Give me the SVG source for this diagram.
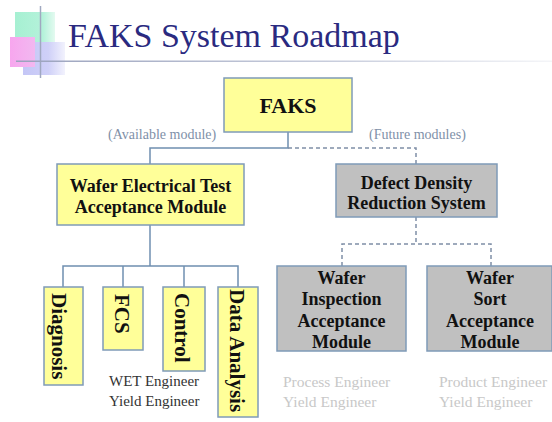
<svg xmlns="http://www.w3.org/2000/svg" width="552" height="422" viewBox="0 0 552 422">
<defs>
<linearGradient id="gGreen" x1="0" y1="0" x2="1" y2="0">
<stop offset="0" stop-color="#a6f0d2"/><stop offset="0.7" stop-color="#b4f2da"/><stop offset="1" stop-color="#e4faf0"/>
</linearGradient>
<linearGradient id="gPink" x1="0" y1="0" x2="1" y2="0">
<stop offset="0" stop-color="#f7a6ee"/><stop offset="1" stop-color="#f2b8f0"/>
</linearGradient>
<linearGradient id="gLav" x1="0" y1="0" x2="1" y2="0">
<stop offset="0" stop-color="#c4c6f6"/><stop offset="0.6" stop-color="#cfd0f8"/><stop offset="1" stop-color="#f2f2fd"/>
</linearGradient>
<linearGradient id="gLine" x1="0" y1="0" x2="1" y2="0">
<stop offset="0" stop-color="#9aa2bd"/><stop offset="0.6" stop-color="#c9cedd"/><stop offset="1" stop-color="#f4f5f8"/>
</linearGradient>
</defs>
<style>
.yb{fill:#ffff99;stroke:#7f9bb8;stroke-width:1.5}
.gb{fill:#c0c0c0;stroke:#7f9bb8;stroke-width:1.5}
.t{font-family:"Liberation Serif","Times New Roman",serif;font-weight:bold;fill:#111;text-anchor:middle}
.v{font-family:"Liberation Serif","Times New Roman",serif;font-weight:bold;fill:#111;font-size:21px}
.sol{fill:none;stroke:#6f8fb0;stroke-width:1.5}
.dsh{fill:none;stroke:#7f8fa6;stroke-width:1.5;stroke-dasharray:4 3}
.lab{font-family:"Liberation Serif","Times New Roman",serif;font-size:14px;fill:#8090a8}
.eng{font-family:"Liberation Serif","Times New Roman",serif;font-size:15px;fill:#333}
.eng2{font-family:"Liberation Serif","Times New Roman",serif;font-size:15.5px;fill:#c8c8c8}
</style>
<rect width="552" height="422" fill="#ffffff"/>
<g id="title">
<rect x="15" y="12" width="40" height="30" fill="url(#gGreen)"/>
<rect x="23" y="42" width="42" height="33" fill="url(#gLav)"/>
<rect x="10" y="37" width="25" height="30" fill="url(#gPink)"/>
<line x1="40.5" y1="6" x2="40.5" y2="78" stroke="#a0a8c0" stroke-width="1.5"/>
<rect x="16" y="60.5" width="536" height="1.5" fill="url(#gLine)"/>
<text x="68" y="47" font-family="'Liberation Serif','Times New Roman',serif" font-size="34" fill="#2a2a80">FAKS System Roadmap</text>
</g>
<g id="connectors">
<polyline class="sol" points="288,132 288,148 150,148 150,164"/>
<polyline class="dsh" points="288,148 416,148 416,164"/>
<polyline class="sol" points="150,225 150,266"/>
<polyline class="sol" points="63,287 63,266 238,266 238,287"/>
<line class="sol" x1="123" y1="266" x2="123" y2="287"/>
<line class="sol" x1="184" y1="266" x2="184" y2="287"/>
<polyline class="dsh" points="416,217 416,244"/>
<polyline class="dsh" points="342,266 342,244 491,244 491,266"/>
</g>
<g id="labels">
<text class="lab" x="108" y="139">(Available module)</text>
<text class="lab" x="369" y="139">(Future modules)</text>
</g>
<g id="faks">
<rect class="yb" x="224" y="78" width="128" height="54"/>
<text class="t" x="288" y="113" font-size="22">FAKS</text>
</g>
<g id="wet">
<rect class="yb" x="57" y="164" width="187" height="61"/>
<text class="t" x="150.5" y="192" font-size="18">Wafer Electrical Test</text>
<text class="t" x="150.5" y="213" font-size="18">Acceptance Module</text>
</g>
<g id="ddrs">
<rect class="gb" x="336" y="164" width="161" height="53"/>
<text class="t" x="416.5" y="189" font-size="18">Defect Density</text>
<text class="t" x="416.5" y="209" font-size="18">Reduction System</text>
</g>
<g id="diagnosis">
<rect class="yb" x="44" y="287" width="39" height="98"/>
<text class="v" transform="translate(52,293) rotate(90)">Diagnosis</text>
</g>
<g id="fcs">
<rect class="yb" x="103" y="287" width="40" height="63"/>
<text class="v" transform="translate(115,294) rotate(90)">FCS</text>
</g>
<g id="control">
<rect class="yb" x="163" y="287" width="42" height="84"/>
<text class="v" transform="translate(175,293) rotate(90)">Control</text>
</g>
<g id="dataanalysis">
<rect class="yb" x="218" y="287" width="40" height="130"/>
<text class="v" transform="translate(230,289) rotate(90)">Data Analysis</text>
</g>
<g id="wiam">
<rect class="gb" x="277" y="266" width="129" height="85"/>
<text class="t" x="341.5" y="284" font-size="18">Wafer</text>
<text class="t" x="341.5" y="305" font-size="18">Inspection</text>
<text class="t" x="341.5" y="327" font-size="18">Acceptance</text>
<text class="t" x="341.5" y="348" font-size="18">Module</text>
</g>
<g id="wsam">
<rect class="gb" x="427" y="266" width="125" height="85"/>
<text class="t" x="490" y="284" font-size="18">Wafer</text>
<text class="t" x="490" y="305" font-size="18">Sort</text>
<text class="t" x="490" y="327" font-size="18">Acceptance</text>
<text class="t" x="490" y="348" font-size="18">Module</text>
</g>
<g id="engineers">
<text class="eng" x="109" y="386">WET Engineer</text>
<text class="eng" x="109" y="406">Yield Engineer</text>
<text class="eng2" x="283" y="387">Process Engineer</text>
<text class="eng2" x="283" y="407">Yield Engineer</text>
<text class="eng2" x="439" y="387">Product Engineer</text>
<text class="eng2" x="439" y="407">Yield Engineer</text>
</g>
</svg>
